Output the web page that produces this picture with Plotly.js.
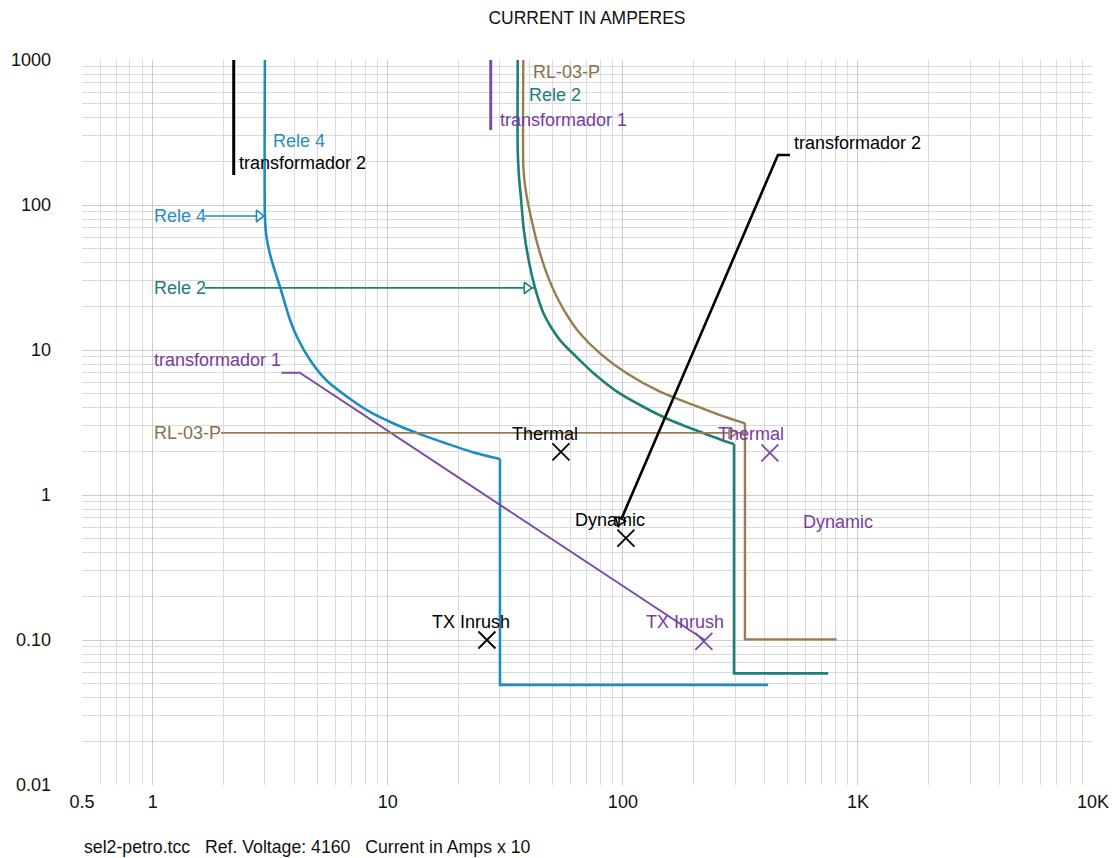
<!DOCTYPE html>
<html>
<head>
<meta charset="utf-8">
<script src="https://cdn.plot.ly/plotly-3.0.1.min.js"></script>
<style>html,body{margin:0;padding:0;background:#fff;}#chart{width:1116px;height:858px;}</style>
</head>
<body>
<div id="chart"></div>
<script>
// ---- tick labels ----
const xTickVals = [0.5, 1, 10, 100, 1000, 10000];
const xTickText = ['0.5', '1', '10', '100', '1K', '10K'];
const yTickVals = [0.01, 0.1, 1, 10, 100, 1000];
const yTickText = ['0.01', '0.10', '1', '10', '100', '1000'];

// ---- Rele 4 (blue) ----
const rele4X = [3.0, 3.0, 3.03, 3.09, 3.20, 3.34, 3.48, 3.80, 4.11, 4.67, 5.46, 6.64, 8.40, 10.7, 13.7, 18.0, 22.8, 30.0, 30.0, 415];
const rele4Y = [1000, 84, 65.1, 53.0, 41.8, 33.4, 27.2, 16.9, 12.3, 8.53, 6.21, 4.82, 3.74, 3.09, 2.63, 2.25, 1.98, 1.77, 0.049, 0.049];
const rele4Knee = 17;

// ---- Rele 2 (teal) ----
const rele2X = [35.7, 35.7, 36.1, 36.9, 37.9, 39.5, 42.3, 45.9, 49.4, 54.0, 58.4, 63.8, 75.3, 94.4, 122, 158.6, 212.8, 276.4, 297, 297, 747.6];
const rele2Y = [1000, 239.5, 161, 108.3, 67.2, 43.8, 26.8, 18.0, 14.4, 11.7, 10.2, 8.88, 6.88, 5.16, 4.06, 3.29, 2.73, 2.33, 2.25, 0.0589, 0.0589];
const rele2Knee = 18;

// ---- RL-03-P (brown) ----
const rlX = [37.7, 37.7, 38.1, 39.0, 40.9, 43.6, 47.4, 52.3, 59.6, 65.7, 79.9, 103.8, 143.8, 199.3, 258.8, 330.6, 330.6, 812];
const rlY = [1000, 188.7, 148.8, 114.1, 78.8, 51.6, 33.8, 23.3, 16.1, 13.0, 9.49, 6.91, 5.16, 4.18, 3.56, 3.12, 0.101, 0.101];
const rlKnee = 15;

// ---- transformador 1 (purple) ----
const t1X = [3.53, 4.22, 223];
const t1Y = [6.97, 6.97, 0.1];
const t1TopX = [27.4, 27.4];
const t1TopY = [1000, 329];

// ---- transformador 2 (black) ----
const t2TopX = [2.21, 2.21];
const t2TopY = [1000, 161];

// ---- damage points ----
const blackPtX = [54.5, 103, 26.4];
const blackPtY = [1.98, 0.505, 0.1];
const blackPtLbl = ['Thermal', 'Dynamic', 'TX Inrush'];
const purplePtX = [422, 221];
const purplePtY = [1.95, 0.098];
const purplePtLbl = ['Thermal', 'TX Inrush'];
const purpleDynX = 570, purpleDynY = 0.651;

// ---- leader lines ----
const leadRele4X = [1.66, 3.0], leadRele4Y = [84, 84], headRele4X = 2.83;
const leadRele2X = [1.66, 42.3], leadRele2Y = [26.8, 26.8], headRele2X = 39.0;
const leadRlX = [1.95, 330.6], leadRlY = [2.68, 2.68], headRlX = 290;
const leadT2X = [95.2, 456.6, 514], leadT2Y = [0.60, 221, 221];
const headT2X = 97, headT2Y = 0.66;

// ---- label anchors ----
const labelText = ['RL-03-P', 'Rele 2', 'transformador 1', 'Rele 4', 'transformador 2',
                   'Rele 4', 'Rele 2', 'transformador 1', 'RL-03-P', 'transformador 2'];
const labelX = [40.6, 39.1, 29.4, 3.18, 2.28, 0.99, 0.99, 0.99, 0.99, 524];
const labelY = [826, 574, 385, 276, 195, 84, 26.8, 8.53, 2.68, 268];
const labelKey = ['rl', 'r2', 't1', 'r4', 't2', 'r4', 'r2', 't1', 'rl', 't2'];

const C = {
  r4: 'rgb(30,140,196)',
  r2: 'rgb(28,128,118)',
  rl: 'rgb(152,124,82)',
  t1: 'rgb(125,75,165)',
  t2: '#000000'
};
const TXT = { r4: 'rgb(40,140,200)', r2: 'rgb(30,125,118)', rl: 'rgb(135,112,75)', t1: 'rgb(120,60,160)', t2: '#000' };
const FONT = 'Liberation Sans, Arial, sans-serif';
const FS = 18;

function line(x, y, color, width, shape) {
  return { x: x, y: y, mode: 'lines', type: 'scatter', hoverinfo: 'skip',
           line: { color: color, width: width, shape: shape || 'linear', smoothing: 0.7 } };
}
function head(x, y, color, angle, symbol) {
  return { x: [x], y: [y], mode: 'markers', type: 'scatter', hoverinfo: 'skip',
           marker: { symbol: symbol || 'triangle-right', size: 10, color: '#fff', angle: angle || 0,
                     line: { color: color, width: 1.6 } } };
}

const traces = [
  line(rele4X.slice(0, rele4Knee + 1), rele4Y.slice(0, rele4Knee + 1), C.r4, 2.6, 'spline'),
  line(rele4X.slice(rele4Knee), rele4Y.slice(rele4Knee), C.r4, 2.6),
  line(rele2X.slice(0, rele2Knee + 1), rele2Y.slice(0, rele2Knee + 1), C.r2, 2.6, 'spline'),
  line(rele2X.slice(rele2Knee), rele2Y.slice(rele2Knee), C.r2, 2.6),
  line(rlX.slice(0, rlKnee + 1), rlY.slice(0, rlKnee + 1), C.rl, 2.4, 'spline'),
  line(rlX.slice(rlKnee), rlY.slice(rlKnee), C.rl, 2.4),
  line(t1X, t1Y, C.t1, 2),
  line(t1TopX, t1TopY, C.t1, 3),
  line(t2TopX, t2TopY, C.t2, 3),
  line(leadRele4X, leadRele4Y, C.r4, 1.6),
  line(leadRele2X, leadRele2Y, C.r2, 1.6),
  line(leadRlX, leadRlY, C.rl, 1.8),
  line(leadT2X, leadT2Y, C.t2, 2.6),
  head(headRele4X, leadRele4Y[0], C.r4),
  head(headRele2X, leadRele2Y[0], C.r2),
  head(headRlX, leadRlY[0], C.rl),
  head(headT2X, headT2Y, C.t2, 23, 'triangle-down'),
  { x: blackPtX, y: blackPtY, mode: 'markers', type: 'scatter', hoverinfo: 'skip',
    marker: { symbol: 'x-thin-open', size: 17, color: '#000', line: { color: '#000', width: 1.8 } } },
  { x: purplePtX, y: purplePtY, mode: 'markers', type: 'scatter', hoverinfo: 'skip',
    marker: { symbol: 'x-thin-open', size: 17, color: C.t1, line: { color: C.t1, width: 1.8 } } }
];

const annotations = [];
for (let i = 0; i < labelText.length; i++) {
  annotations.push({ x: Math.log10(labelX[i]), y: Math.log10(labelY[i]), xref: 'x', yref: 'y',
    text: labelText[i], showarrow: false, xanchor: 'left', yanchor: 'middle',
    font: { family: FONT, size: FS, color: TXT[labelKey[i]] } });
}
for (let i = 0; i < blackPtX.length; i++) {
  annotations.push({ x: Math.log10(blackPtX[i]), y: Math.log10(blackPtY[i]), xref: 'x', yref: 'y',
    text: blackPtLbl[i], showarrow: false, xanchor: 'center', yanchor: 'middle', xshift: -16, yshift: 18,
    font: { family: FONT, size: FS, color: '#000' } });
}
for (let i = 0; i < purplePtX.length; i++) {
  annotations.push({ x: Math.log10(purplePtX[i]), y: Math.log10(purplePtY[i]), xref: 'x', yref: 'y',
    text: purplePtLbl[i], showarrow: false, xanchor: 'center', yanchor: 'middle', xshift: -19, yshift: 19,
    font: { family: FONT, size: FS, color: TXT.t1 } });
}
annotations.push({ x: Math.log10(purpleDynX), y: Math.log10(purpleDynY), xref: 'x', yref: 'y',
  text: 'Dynamic', showarrow: false, xanchor: 'left', yanchor: 'middle',
  font: { family: FONT, size: FS, color: TXT.t1 } });
annotations.push({ x: 0, y: -0.0855, xref: 'paper', yref: 'paper', xanchor: 'left', yanchor: 'middle',
  text: 'sel2-petro.tcc\u00a0\u00a0\u00a0Ref. Voltage: 4160\u00a0\u00a0\u00a0Current in Amps x 10',
  showarrow: false, font: { family: FONT, size: 17.7, color: '#111' } });

function minorVals(lo, hi) {
  const v = [];
  for (let d = lo; d <= hi; d++) for (let k = 2; k <= 9; k++) v.push(k * Math.pow(10, d));
  return v;
}
const gridCol = '#cccccc';

const layout = {
  width: 1116, height: 858,
  margin: { l: 82, r: 23, t: 60, b: 73 },
  paper_bgcolor: '#fff', plot_bgcolor: '#fff',
  showlegend: false,
  title: { text: 'CURRENT IN AMPERES', x: 587 / 1116, xref: 'container', xanchor: 'center',
           y: 1 - 18 / 858, yref: 'container', yanchor: 'middle',
           font: { family: FONT, size: 17.5, color: '#111' } },
  xaxis: { type: 'log', range: [Math.log10(0.5), 4], tickvals: xTickVals, ticktext: xTickText,
           showgrid: true, gridcolor: gridCol, gridwidth: 1, zeroline: false, showline: false, ticks: '',
           ticklabelstandoff: 4,
           tickfont: { family: FONT, size: 18, color: '#111' },
           minor: { tickvals: minorVals(-1, 3).filter(v => v > 0.5), showgrid: true, gridcolor: '#dadada', gridwidth: 1 } },
  yaxis: { type: 'log', range: [-2, 3], tickvals: yTickVals, ticktext: yTickText,
           showgrid: true, gridcolor: gridCol, gridwidth: 1, zeroline: false, showline: false, ticks: '',
           ticklabelstandoff: 30,
           tickfont: { family: FONT, size: 18, color: '#111' },
           minor: { tickvals: minorVals(-2, 2), showgrid: true, gridcolor: '#dadada', gridwidth: 1 } },
  annotations: annotations
};

Plotly.newPlot('chart', traces, layout, { staticPlot: true, displayModeBar: false });
</script>
</body>
</html>
